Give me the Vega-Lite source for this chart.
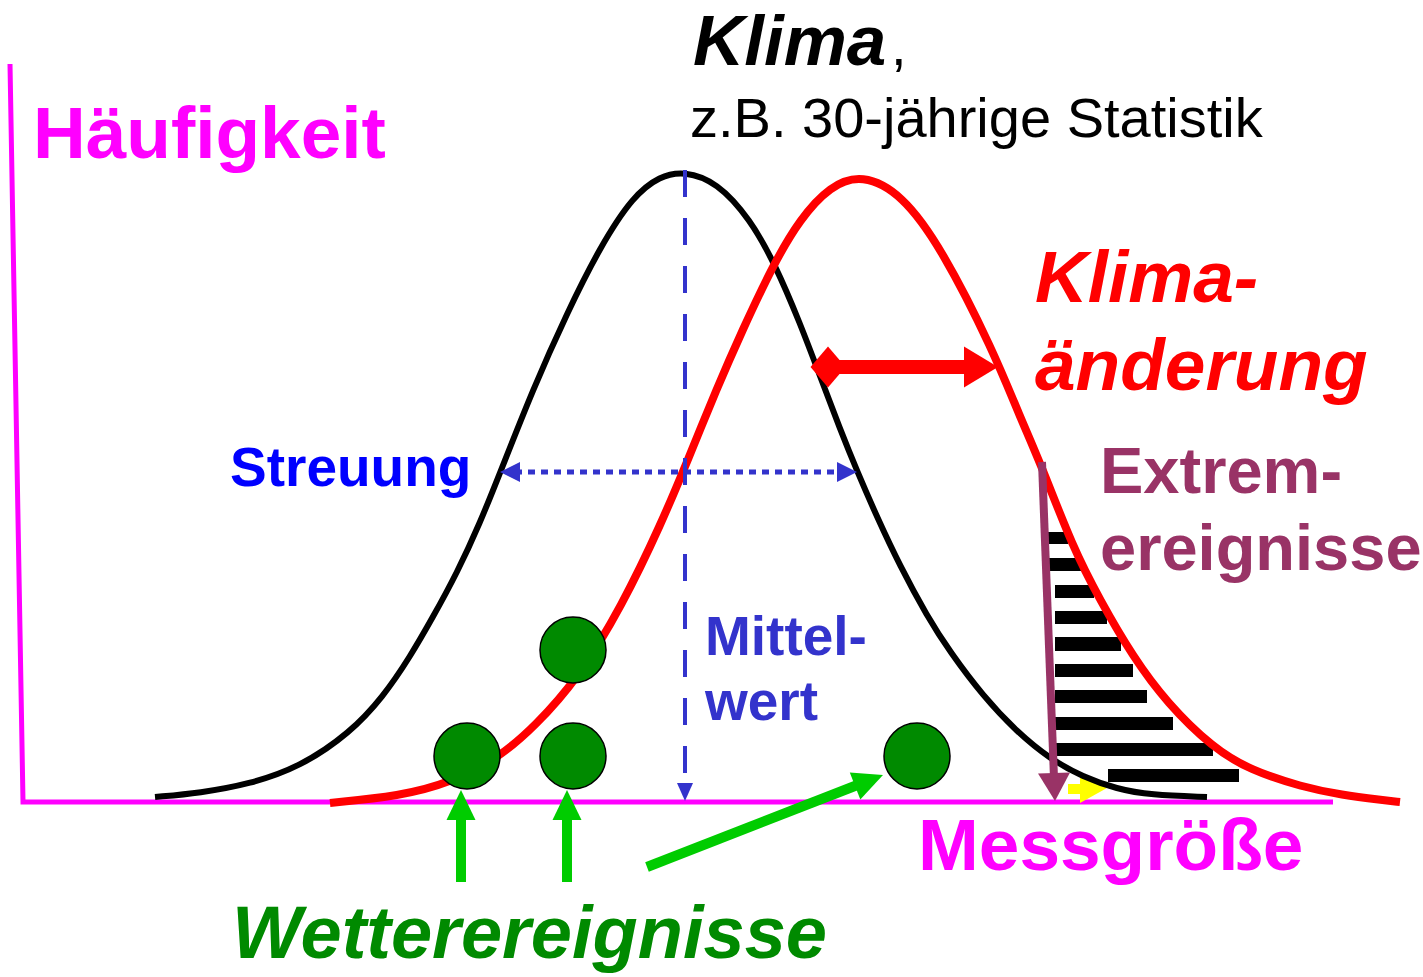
{
  "$schema": "https://vega.github.io/schema/vega-lite/v6.json",
  "width": 1423,
  "height": 977,
  "autosize": {"type": "fit", "contains": "padding"},
  "padding": 0,
  "background": "white",
  "config": {"view": {"stroke": null}},
  "datasets": {
    "axes": [{"x": 10, "y": 64}, {"x": 23, "y": 802}, {"x": 1333, "y": 802}],
    "black": [
      {"x": 155, "y": 797}, {"x": 200, "y": 793}, {"x": 250, "y": 784}, {"x": 300, "y": 767},
      {"x": 350, "y": 733}, {"x": 383, "y": 697}, {"x": 410, "y": 657}, {"x": 433, "y": 617},
      {"x": 457, "y": 573}, {"x": 480, "y": 523}, {"x": 500, "y": 473}, {"x": 533, "y": 389},
      {"x": 567, "y": 313}, {"x": 600, "y": 247}, {"x": 633, "y": 196}, {"x": 660, "y": 176},
      {"x": 684, "y": 171}, {"x": 717, "y": 182}, {"x": 750, "y": 219}, {"x": 775, "y": 264},
      {"x": 800, "y": 323}, {"x": 820, "y": 376}, {"x": 840, "y": 429}, {"x": 857, "y": 471},
      {"x": 877, "y": 517}, {"x": 900, "y": 566}, {"x": 927, "y": 616}, {"x": 950, "y": 652},
      {"x": 983, "y": 696}, {"x": 1017, "y": 732}, {"x": 1050, "y": 759}, {"x": 1083, "y": 777},
      {"x": 1117, "y": 789}, {"x": 1150, "y": 795}, {"x": 1207, "y": 797}
    ],
    "red": [
      {"x": 330, "y": 803}, {"x": 400, "y": 796}, {"x": 450, "y": 783}, {"x": 500, "y": 757},
      {"x": 535, "y": 726}, {"x": 577, "y": 680}, {"x": 622, "y": 606}, {"x": 662, "y": 522},
      {"x": 687, "y": 462}, {"x": 717, "y": 388}, {"x": 742, "y": 331}, {"x": 773, "y": 265},
      {"x": 800, "y": 219}, {"x": 830, "y": 186}, {"x": 862, "y": 174}, {"x": 902, "y": 194},
      {"x": 942, "y": 249}, {"x": 993, "y": 350}, {"x": 1020, "y": 417}, {"x": 1040, "y": 462},
      {"x": 1073, "y": 548}, {"x": 1100, "y": 600}, {"x": 1133, "y": 657}, {"x": 1167, "y": 703},
      {"x": 1213, "y": 748}, {"x": 1250, "y": 770}, {"x": 1302, "y": 787}, {"x": 1342, "y": 795},
      {"x": 1382, "y": 800}, {"x": 1400, "y": 802}
    ],
    "hatch": [
      {"x": 1043, "x2": 1068, "y": 532, "y2": 544},
      {"x": 1043, "x2": 1081, "y": 558, "y2": 571},
      {"x": 1055, "x2": 1094, "y": 585, "y2": 598},
      {"x": 1055, "x2": 1107, "y": 611, "y2": 624},
      {"x": 1055, "x2": 1121, "y": 637, "y2": 651},
      {"x": 1055, "x2": 1133, "y": 664, "y2": 677},
      {"x": 1055, "x2": 1147, "y": 690, "y2": 703},
      {"x": 1055, "x2": 1173, "y": 717, "y2": 730},
      {"x": 1055, "x2": 1213, "y": 743, "y2": 756},
      {"x": 1108, "x2": 1239, "y": 769, "y2": 782}
    ],
    "blueDash": [{"x": 685, "y": 170, "x2": 685, "y2": 790}],
    "blueDashHead": [{"x": 685, "y": 801}],
    "streuung": [{"x": 515, "y": 472, "x2": 842, "y2": 472}],
    "streuungLeft": [{"x": 500, "y": 472}],
    "streuungRight": [{"x": 857, "y": 472}],
    "redShaft": [{"x": 828, "y": 367, "x2": 966, "y2": 367}],
    "redDiamond": [{"x": 828, "y": 367}],
    "redHead": [{"x": 998, "y": 367}],
    "purpleShaft": [{"x": 1042, "y": 462, "x2": 1054, "y2": 778}],
    "purpleHead": [{"x": 1055, "y": 801}],
    "yellowShaft": [{"x": 1068, "y": 789, "x2": 1086, "y2": 789}],
    "yellowHead": [{"x": 1107, "y": 788}],
    "greenShafts": [
      {"x": 461, "y": 882, "x2": 461, "y2": 815},
      {"x": 567, "y": 882, "x2": 567, "y2": 815},
      {"x": 647, "y": 867, "x2": 860, "y2": 784}
    ],
    "greenHeadsUp": [{"x": 461, "y": 790}, {"x": 567, "y": 790}],
    "greenHeadDiag": [{"x": 883, "y": 775}],
    "circles": [{"x": 573, "y": 650}, {"x": 467, "y": 756}, {"x": 573, "y": 756}, {"x": 917, "y": 756}],
    "tTitle": [{"x": 693, "y": 65, "label": "Klima"}],
    "tRegular": [{"x": 891, "y": 65, "label": ","}, {"x": 690, "y": 137, "label": "z.B. 30-jährige Statistik"}],
    "tMagenta": [{"x": 33, "y": 158, "label": "Häufigkeit"}, {"x": 918, "y": 870, "label": "Messgröße"}],
    "tRed": [{"x": 1035, "y": 302, "label": "Klima-"}, {"x": 1035, "y": 390, "label": "änderung"}],
    "tPurple": [{"x": 1100, "y": 493, "label": "Extrem-"}, {"x": 1100, "y": 570, "label": "ereignisse"}],
    "tBlue": [{"x": 230, "y": 486, "label": "Streuung"}],
    "tBlue2": [{"x": 705, "y": 655, "label": "Mittel-"}, {"x": 705, "y": 720, "label": "wert"}],
    "tGreen": [{"x": 232, "y": 958, "label": "Wetterereignisse"}]
  },
  "encoding": {
    "x": {"field": "x", "type": "quantitative", "scale": {"domain": [0, 1423], "nice": false, "zero": false}, "axis": null},
    "y": {"field": "y", "type": "quantitative", "scale": {"domain": [0, 977], "nice": false, "zero": false, "reverse": true}, "axis": null}
  },
  "layer": [
    {"data": {"name": "axes"}, "mark": {"type": "line", "color": "#ff00ff", "strokeWidth": 5, "strokeJoin": "miter"}},
    {"data": {"name": "yellowShaft"}, "mark": {"type": "rule", "color": "#ffff00", "strokeWidth": 10, "strokeCap": "butt"},
     "encoding": {"x2": {"field": "x2"}, "y2": {"field": "y2"}}},
    {"data": {"name": "yellowHead"}, "mark": {"type": "point", "shape": "M0,0L-1.5,2.7L1.5,2.7Z", "size": 400, "angle": 90, "filled": true, "color": "#ffff00", "opacity": 1, "strokeWidth": 0}},
    {"data": {"name": "hatch"}, "mark": {"type": "rect", "color": "#000000"},
     "encoding": {"x2": {"field": "x2"}, "y2": {"field": "y2"}}},
    {"data": {"name": "black"}, "mark": {"type": "line", "color": "#000000", "strokeWidth": 6, "interpolate": "basis"}},
    {"data": {"name": "red"}, "mark": {"type": "line", "color": "#ff0000", "strokeWidth": 8, "interpolate": "basis"}},
    {"data": {"name": "blueDash"}, "mark": {"type": "rule", "color": "#3333cc", "strokeWidth": 4, "strokeDash": [27, 21], "strokeCap": "butt"},
     "encoding": {"x2": {"field": "x2"}, "y2": {"field": "y2"}}},
    {"data": {"name": "blueDashHead"}, "mark": {"type": "point", "shape": "M0,0L-0.8,1.8L0.8,1.8Z", "size": 400, "angle": 180, "filled": true, "color": "#3333cc", "opacity": 1, "strokeWidth": 0}},
    {"data": {"name": "streuung"}, "mark": {"type": "rule", "color": "#3333cc", "strokeWidth": 5, "strokeDash": [7, 6], "strokeCap": "butt"},
     "encoding": {"x2": {"field": "x2"}, "y2": {"field": "y2"}}},
    {"data": {"name": "streuungLeft"}, "mark": {"type": "point", "shape": "M0,0L-1,2L1,2Z", "size": 400, "angle": 270, "filled": true, "color": "#3333cc", "opacity": 1, "strokeWidth": 0}},
    {"data": {"name": "streuungRight"}, "mark": {"type": "point", "shape": "M0,0L-1,2L1,2Z", "size": 400, "angle": 90, "filled": true, "color": "#3333cc", "opacity": 1, "strokeWidth": 0}},
    {"data": {"name": "redShaft"}, "mark": {"type": "rule", "color": "#ff0000", "strokeWidth": 14, "strokeCap": "butt"},
     "encoding": {"x2": {"field": "x2"}, "y2": {"field": "y2"}}},
    {"data": {"name": "redDiamond"}, "mark": {"type": "point", "shape": "M0,-2.05L1.75,0L0,2.05L-1.75,0Z", "size": 400, "filled": true, "color": "#ff0000", "opacity": 1, "strokeWidth": 0}},
    {"data": {"name": "redHead"}, "mark": {"type": "point", "shape": "M0,0L-2.05,3.4L2.05,3.4Z", "size": 400, "angle": 90, "filled": true, "color": "#ff0000", "opacity": 1, "strokeWidth": 0}},
    {"data": {"name": "purpleShaft"}, "mark": {"type": "rule", "color": "#993366", "strokeWidth": 8, "strokeCap": "butt"},
     "encoding": {"x2": {"field": "x2"}, "y2": {"field": "y2"}}},
    {"data": {"name": "purpleHead"}, "mark": {"type": "point", "shape": "M0,0L-1.6,2.8L1.6,2.8Z", "size": 400, "angle": 178, "filled": true, "color": "#993366", "opacity": 1, "strokeWidth": 0}},
    {"data": {"name": "circles"}, "mark": {"type": "point", "shape": "circle", "size": 4356, "filled": true, "fill": "#008a00", "stroke": "#000000", "strokeWidth": 1.5, "opacity": 1}},
    {"data": {"name": "greenShafts"}, "mark": {"type": "rule", "color": "#00cc00", "strokeWidth": 10, "strokeCap": "butt"},
     "encoding": {"x2": {"field": "x2"}, "y2": {"field": "y2"}}},
    {"data": {"name": "greenHeadsUp"}, "mark": {"type": "point", "shape": "M0,0L-1.45,3L1.45,3Z", "size": 400, "angle": 0, "filled": true, "color": "#00cc00", "opacity": 1, "strokeWidth": 0}},
    {"data": {"name": "greenHeadDiag"}, "mark": {"type": "point", "shape": "M0,0L-1.45,3L1.45,3Z", "size": 400, "angle": 68.7, "filled": true, "color": "#00cc00", "opacity": 1, "strokeWidth": 0}},
    {"data": {"name": "tTitle"}, "mark": {"type": "text", "align": "left", "baseline": "alphabetic", "font": "Liberation Sans", "fontSize": 71, "fontWeight": "bold", "fontStyle": "italic", "color": "#000000"},
     "encoding": {"text": {"field": "label"}}},
    {"data": {"name": "tRegular"}, "mark": {"type": "text", "align": "left", "baseline": "alphabetic", "font": "Liberation Sans", "fontSize": 56, "color": "#000000"},
     "encoding": {"text": {"field": "label"}}},
    {"data": {"name": "tMagenta"}, "mark": {"type": "text", "align": "left", "baseline": "alphabetic", "font": "Liberation Sans", "fontSize": 73, "fontWeight": "bold", "color": "#ff00ff"},
     "encoding": {"text": {"field": "label"}}},
    {"data": {"name": "tRed"}, "mark": {"type": "text", "align": "left", "baseline": "alphabetic", "font": "Liberation Sans", "fontSize": 73, "fontWeight": "bold", "fontStyle": "italic", "color": "#ff0000"},
     "encoding": {"text": {"field": "label"}}},
    {"data": {"name": "tPurple"}, "mark": {"type": "text", "align": "left", "baseline": "alphabetic", "font": "Liberation Sans", "fontSize": 65, "fontWeight": "bold", "color": "#993366"},
     "encoding": {"text": {"field": "label"}}},
    {"data": {"name": "tBlue"}, "mark": {"type": "text", "align": "left", "baseline": "alphabetic", "font": "Liberation Sans", "fontSize": 55, "fontWeight": "bold", "color": "#0000ff"},
     "encoding": {"text": {"field": "label"}}},
    {"data": {"name": "tBlue2"}, "mark": {"type": "text", "align": "left", "baseline": "alphabetic", "font": "Liberation Sans", "fontSize": 55, "fontWeight": "bold", "color": "#3333cc"},
     "encoding": {"text": {"field": "label"}}},
    {"data": {"name": "tGreen"}, "mark": {"type": "text", "align": "left", "baseline": "alphabetic", "font": "Liberation Sans", "fontSize": 74, "fontWeight": "bold", "fontStyle": "italic", "color": "#008a00"},
     "encoding": {"text": {"field": "label"}}}
  ]
}
